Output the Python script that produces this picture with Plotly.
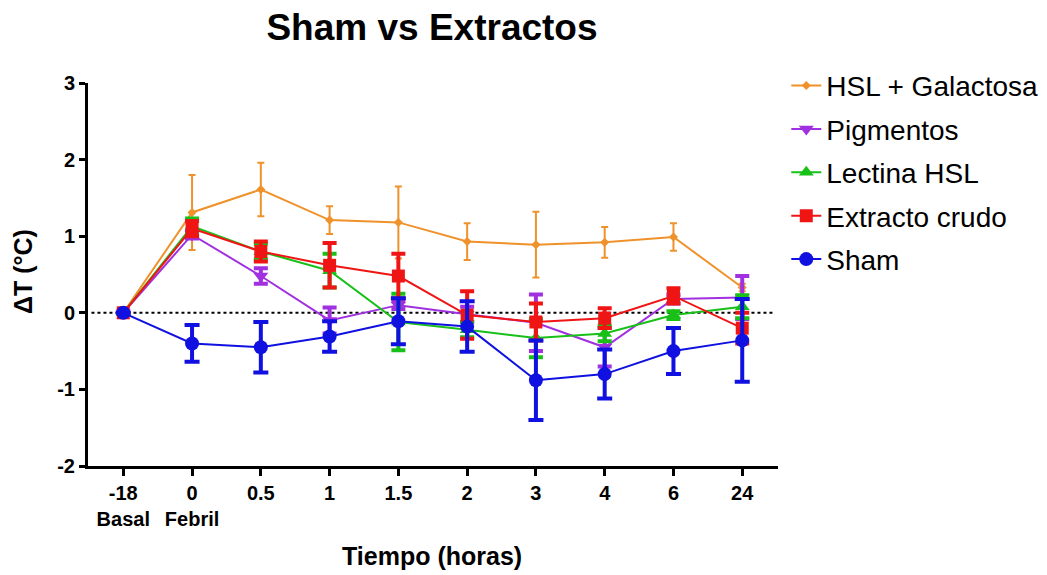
import plotly.graph_objects as go

# ---- data ----
tick_labels = ["-18<br>Basal", "0<br>Febril", "0.5", "1", "1.5", "2", "3", "4", "6", "24"]
x_idx = list(range(len(tick_labels)))

hsl_gal_mean = [0, 1.31, 1.61, 1.21, 1.18, 0.93, 0.89, 0.92, 0.99, 0.33]
hsl_gal_err = [0, 0.49, 0.35, 0.18, 0.47, 0.24, 0.43, 0.20, 0.18, 0.05]

pigm_mean = [0, 1.02, 0.48, -0.10, 0.10, -0.02, -0.13, -0.45, 0.18, 0.20]
pigm_err = [0, 0.05, 0.10, 0.17, 0.05, 0.10, 0.37, 0.25, 0.06, 0.28]

lect_mean = [0, 1.13, 0.80, 0.55, -0.12, -0.22, -0.33, -0.27, -0.03, 0.08]
lect_err = [0, 0.10, 0.10, 0.22, 0.37, 0.10, 0.25, 0.10, 0.05, 0.15]

extr_mean = [0, 1.10, 0.80, 0.62, 0.48, -0.03, -0.12, -0.07, 0.22, -0.20]
extr_err = [0, 0.10, 0.13, 0.29, 0.29, 0.31, 0.24, 0.13, 0.10, 0.20]

sham_mean = [0, -0.40, -0.45, -0.31, -0.11, -0.18, -0.88, -0.80, -0.50, -0.36]
sham_err = [0, 0.24, 0.33, 0.20, 0.30, 0.33, 0.52, 0.32, 0.30, 0.54]

y_ticks = [3, 2, 1, 0, -1, -2]
y_ticktext = ["3", "2", "1", "0", "-1", "-2"]

series = [
    ("HSL + Galactosa", hsl_gal_mean, hsl_gal_err, "#F0922B", "diamond", 7, 2, 3.5),
    ("Pigmentos", pigm_mean, pigm_err, "#A030E0", "triangle-down", 13, 4, 7),
    ("Lectina HSL", lect_mean, lect_err, "#18C018", "triangle-up", 13, 4, 7),
    ("Extracto crudo", extr_mean, extr_err, "#F01515", "square", 13, 4, 7),
    ("Sham", sham_mean, sham_err, "#1010E0", "circle", 14, 4, 7.5),
]

fig = go.Figure()
for name, m, e, col, sym, msize, eth, ew in series:
    fig.add_trace(go.Scatter(
        x=x_idx, y=m, name=name, mode="lines+markers",
        legendgroup=name,
        line=dict(color=col, width=2),
        marker=dict(symbol=sym, size=msize, color=col),
        error_y=dict(type="data", array=e, visible=True, color=col,
                     thickness=eth, width=ew),
    ))

fig.add_shape(type="line", xref="paper", yref="y", x0=0.005, x1=0.995, y0=0, y1=0,
              line=dict(color="black", width=2, dash="dot"), layer="below")

font_main = "Arial, Liberation Sans, sans-serif"
fig.update_layout(
    width=1047, height=575,
    margin=dict(l=88, r=269, t=83, b=109, autoexpand=False),
    paper_bgcolor="white", plot_bgcolor="white",
    font=dict(family=font_main, color="black"),
    title=dict(text="<b>Sham vs Extractos</b>", x=432 / 1047, xanchor="center",
               y=1 - 27 / 575, yanchor="middle", font=dict(size=37)),
    showlegend=True,
    legend=dict(x=1.012, xanchor="left", y=1.058, yanchor="top",
                font=dict(size=28), tracegroupgap=4, itemwidth=30,
                bgcolor="rgba(0,0,0,0)"),
    xaxis=dict(range=[-0.513, 9.52], tickmode="array", tickvals=x_idx,
               ticktext=["<b>" + t.replace("<br>", "</b><br><b>") + "</b>" for t in tick_labels],
               showline=True, linecolor="black", linewidth=3,
               ticks="outside", ticklen=7, tickwidth=2.5, tickcolor="black",
               showgrid=False, zeroline=False, tickfont=dict(size=20)),
    yaxis=dict(range=[-2, 3], tickmode="array", tickvals=y_ticks,
               ticktext=["<b>" + t + "</b>" for t in y_ticktext],
               showline=True, linecolor="black", linewidth=3,
               ticks="outside", ticklen=6, tickwidth=2.5, tickcolor="black",
               showgrid=False, zeroline=False, tickfont=dict(size=20)),
    annotations=[
        dict(text="<b>Tiempo (horas)</b>", xref="paper", yref="paper",
             x=(432 - 88) / 690, y=-(556 - 466) / 383, xanchor="center", yanchor="middle",
             showarrow=False, font=dict(size=25)),
        dict(text="<b>ΔT (°C)</b>", xref="paper", yref="paper",
             x=-(88 - 23) / 690, y=(466 - 272) / 383, xanchor="center", yanchor="middle",
             textangle=-90, showarrow=False, font=dict(size=25)),
    ],
)

fig.write_html("out.html")
